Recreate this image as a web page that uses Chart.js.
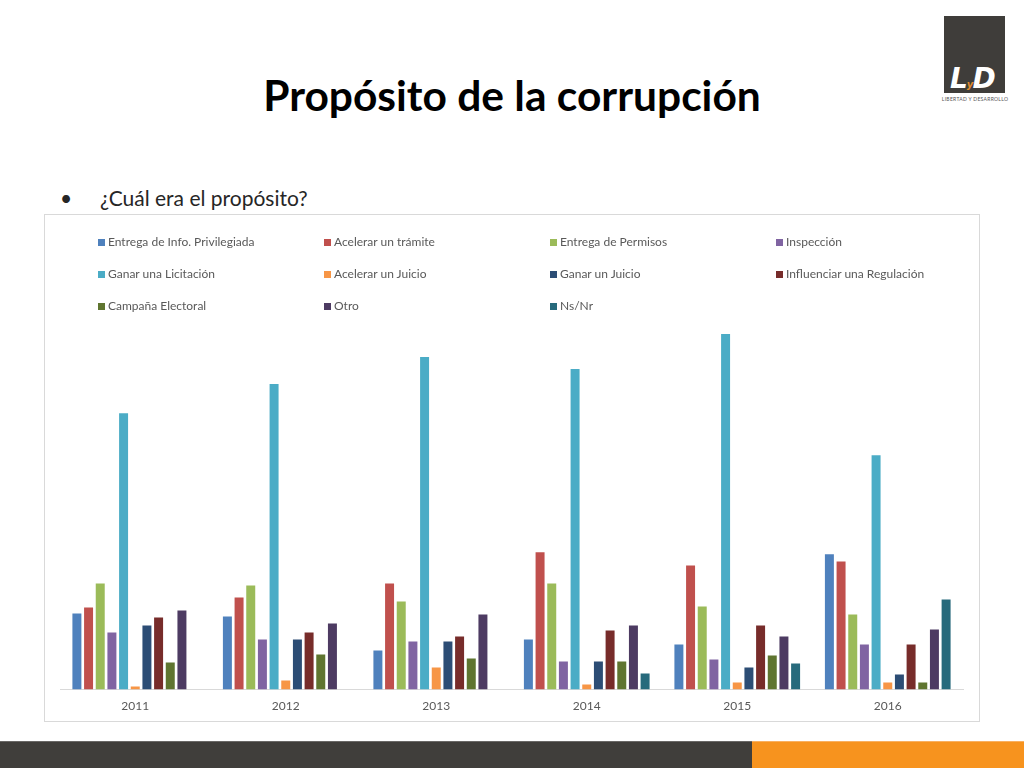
<!DOCTYPE html>
<html>
<head>
<meta charset="utf-8">
<script src="https://cdn.jsdelivr.net/npm/chart.js@4"></script>
<style>
html,body{margin:0;padding:0;background:#fff;}
body{width:1024px;height:768px;position:relative;overflow:hidden;font-family:Lato,"Liberation Sans",sans-serif;}
#title{position:absolute;left:0;width:1024px;top:69px;text-align:center;font-weight:bold;font-size:42.5px;color:#000;}
#bullet{position:absolute;left:60px;top:185px;font-size:21px;color:#262626;}
#bullet span{display:inline-block;width:40px;}
#box{position:absolute;left:44px;top:214px;width:934px;height:506px;border:1px solid #d9d9d9;}
#legend{position:absolute;left:98px;top:234px;width:880px;display:grid;grid-template-columns:226px 226px 226px 226px;row-gap:16px;font-size:12px;color:#595959;}
#legend div{height:16px;line-height:16px;white-space:nowrap;}
#legend i{display:inline-block;width:7px;height:7px;margin-right:3px;vertical-align:0px;}
#wrap{position:absolute;left:44px;top:214px;width:936px;height:508px;}
#logo{position:absolute;left:944px;top:16px;width:61px;height:77px;background:#3f3d3a;}
#logo b{position:absolute;left:6px;top:46px;color:#fff;font-style:italic;font-size:28px;font-family:"DejaVu Sans",sans-serif;letter-spacing:-1px;}
#logo b em{color:#e08a2a;font-size:10px;font-style:italic;}
#logotxt{position:absolute;left:940px;top:96px;width:70px;text-align:center;font-size:5px;color:#555;letter-spacing:0.3px;}
#footL{position:absolute;left:0;top:741px;width:752px;height:27px;background:#403e3b;border-top:1px solid #6a6866;}
#footR{position:absolute;left:752px;top:741px;width:272px;height:27px;background:#f7931e;border-top:1px solid #f9b060;}
</style>
</head>
<body>
<div id="title">Propósito de la corrupción</div>
<div id="bullet"><span>•</span>¿Cuál era el propósito?</div>
<div id="box"></div>
<div id="wrap"><canvas id="chart"></canvas></div>
<div id="legend"></div>
<div id="logo"><b>L<em>y</em>D</b></div>
<div id="logotxt">LIBERTAD Y DESARROLLO</div>
<div id="footL"></div>
<div id="footR"></div>
<script>
const years = ["2011","2012","2013","2014","2015","2016"];
const labels = ["Entrega de Info. Privilegiada","Acelerar un trámite","Entrega de Permisos","Inspección",
    "Ganar una Licitación","Acelerar un Juicio","Ganar un Juicio","Influenciar una Regulación",
    "Campaña Electoral","Otro","Ns/Nr"];
const colors = ["#4f81bd","#c0504d","#9bbb59","#8064a2","#4bacc6","#f79646","#2c4d75","#772c2a","#5f7530","#4d3b62","#276a7c"];

// values per series, one per year
const infoPrivilegiada = [7.6, 7.3, 3.9, 5.0, 4.5, 13.5];
const acelerarTramite  = [8.2, 9.2, 10.6, 13.7, 12.4, 12.8];
const entregaPermisos  = [10.6, 10.4, 8.8, 10.6, 8.3, 7.5];
const inspeccion       = [5.7, 5.0, 4.8, 2.8, 3.0, 4.5];
const ganarLicitacion  = [27.6, 30.5, 33.2, 32.0, 35.5, 23.4];
const acelerarJuicio   = [0.3, 0.9, 2.2, 0.5, 0.7, 0.7];
const ganarJuicio      = [6.4, 5.0, 4.8, 2.8, 2.2, 1.5];
const influenciar      = [7.2, 5.7, 5.3, 5.9, 6.4, 4.5];
const campana          = [2.7, 3.5, 3.1, 2.8, 3.4, 0.7];
const otro             = [7.9, 6.6, 7.5, 6.4, 5.3, 6.0];
const nsnr             = [0, 0, 0, 1.6, 2.6, 9.0];

const series = [infoPrivilegiada, acelerarTramite, entregaPermisos, inspeccion, ganarLicitacion,
    acelerarJuicio, ganarJuicio, influenciar, campana, otro, nsnr];

const legend = document.getElementById("legend");
labels.forEach((l,i)=>{
    const d = document.createElement("div");
    d.innerHTML = `<i style="background:${colors[i]}"></i>${l}`;
    legend.appendChild(d);
});

new Chart(document.getElementById("chart"),{
    type:"bar",
    data:{
        labels:years,
        datasets:series.map((s,i)=>({label:labels[i], data:s, backgroundColor:colors[i],
            categoryPercentage:0.853, barPercentage:0.77}))
    },
    options:{
        responsive:true,
        maintainAspectRatio:false,
        animation:false,
        layout:{padding:{left:16,right:17,top:116,bottom:0}},
        plugins:{legend:{display:false}, tooltip:{enabled:false}},
        scales:{
            x:{
                grid:{display:false,drawTicks:false,tickLength:0},
                border:{display:true,color:"#d9d9d9",width:1},
                ticks:{color:"#595959",padding:9,font:{size:12,family:"Lato"}}
            },
            y:{display:false,min:0,max:35.9}
        }
    }
});
</script>
</body>
</html>
